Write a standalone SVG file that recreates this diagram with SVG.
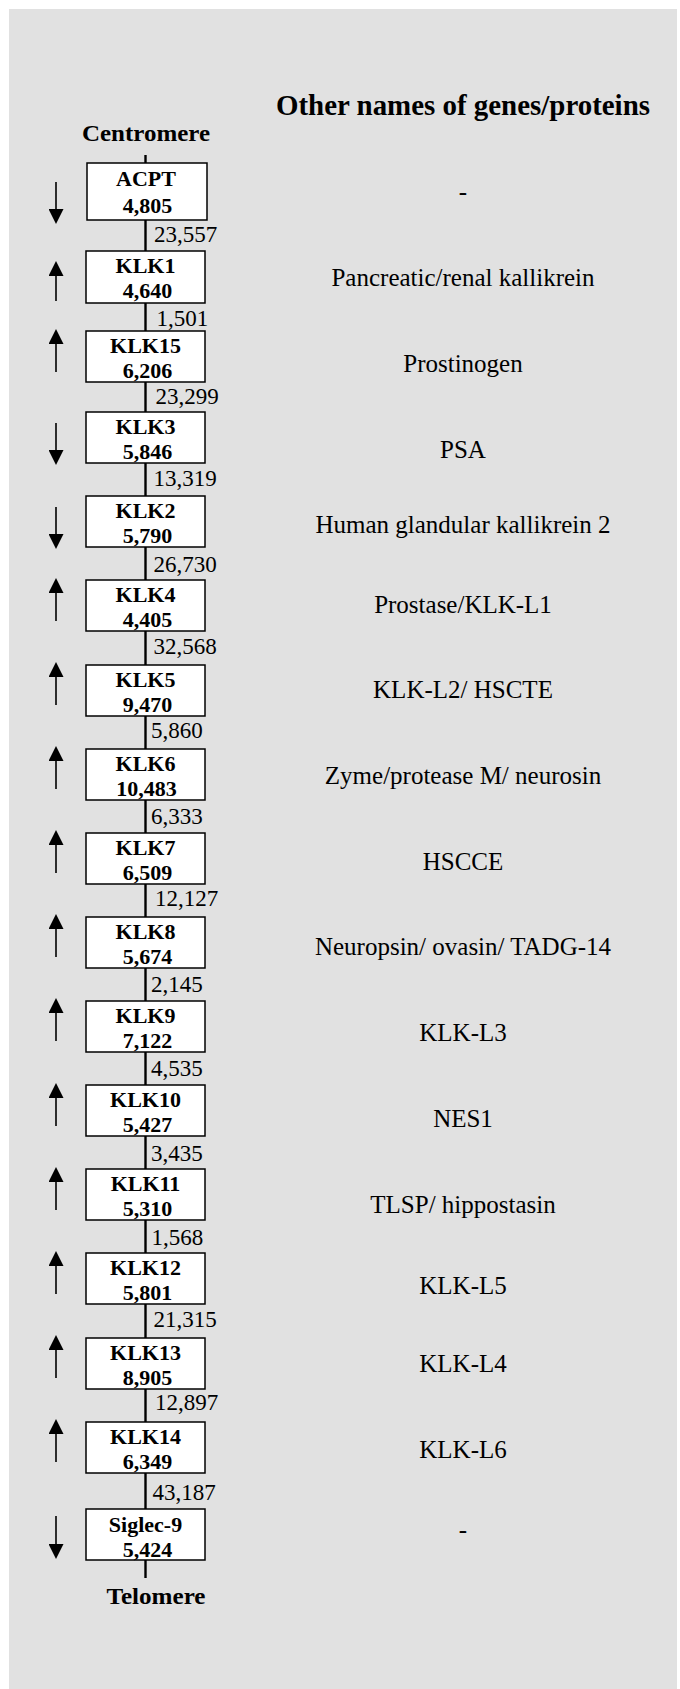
<svg xmlns="http://www.w3.org/2000/svg" width="680" height="1689" viewBox="0 0 680 1689">
<style>
.bg{fill:#e1e1e1}
.box{fill:#fff;stroke:#000;stroke-width:1.5}
.nm{font-family:"Liberation Serif","Times New Roman",serif;font-weight:bold;font-size:22px;text-anchor:middle;fill:#000}
.al{font-family:"Liberation Serif","Times New Roman",serif;font-size:25px;text-anchor:middle;fill:#000}
.ds{font-family:"Liberation Serif","Times New Roman",serif;font-size:23px;fill:#000}
.hd{font-family:"Liberation Serif","Times New Roman",serif;font-weight:bold;text-anchor:middle;fill:#000}
.con{stroke:#000;stroke-width:2.4;fill:none}
.arr{stroke:#000;stroke-width:1.6;fill:none;marker-end:url(#ah)}
</style>
<defs>
<marker id="ah" markerUnits="userSpaceOnUse" markerWidth="15" markerHeight="15" viewBox="0 0 15 15" refX="5" refY="7.5" orient="auto">
<path d="M0,0 L15,7.5 L0,15 Z" fill="#000"/>
</marker>
</defs>
<rect class="bg" x="9" y="9" width="668" height="1680"/>
<text class="hd" x="463" y="115" font-size="30" textLength="374" lengthAdjust="spacingAndGlyphs">Other names of genes/proteins</text>
<text id="centromere" class="hd" x="146" y="141" font-size="24" textLength="128" lengthAdjust="spacingAndGlyphs">Centromere</text>
<text id="telomere" class="hd" x="156" y="1604" font-size="24" textLength="99" lengthAdjust="spacingAndGlyphs">Telomere</text>
<g id="connectors">
<line class="con" x1="145.5" y1="155" x2="145.5" y2="163"/>
<line class="con" x1="145.5" y1="220" x2="145.5" y2="251"/>
<line class="con" x1="145.5" y1="303" x2="145.5" y2="331"/>
<line class="con" x1="145.5" y1="382" x2="145.5" y2="412"/>
<line class="con" x1="145.5" y1="463" x2="145.5" y2="496"/>
<line class="con" x1="145.5" y1="547" x2="145.5" y2="580"/>
<line class="con" x1="145.5" y1="631" x2="145.5" y2="665"/>
<line class="con" x1="145.5" y1="716" x2="145.5" y2="749"/>
<line class="con" x1="145.5" y1="800" x2="145.5" y2="833"/>
<line class="con" x1="145.5" y1="884" x2="145.5" y2="917"/>
<line class="con" x1="145.5" y1="968" x2="145.5" y2="1001"/>
<line class="con" x1="145.5" y1="1052" x2="145.5" y2="1085"/>
<line class="con" x1="145.5" y1="1136" x2="145.5" y2="1169"/>
<line class="con" x1="145.5" y1="1220" x2="145.5" y2="1253"/>
<line class="con" x1="145.5" y1="1304" x2="145.5" y2="1338"/>
<line class="con" x1="145.5" y1="1389" x2="145.5" y2="1422"/>
<line class="con" x1="145.5" y1="1473" x2="145.5" y2="1509"/>
<line class="con" x1="145.5" y1="1560" x2="145.5" y2="1578"/>
<text class="ds" x="154" y="242">23,557</text>
<text class="ds" x="156.5" y="326">1,501</text>
<text class="ds" x="155.5" y="404">23,299</text>
<text class="ds" x="153.5" y="486">13,319</text>
<text class="ds" x="153.5" y="572">26,730</text>
<text class="ds" x="153.5" y="654">32,568</text>
<text class="ds" x="151" y="738">5,860</text>
<text class="ds" x="151" y="824">6,333</text>
<text class="ds" x="155" y="906">12,127</text>
<text class="ds" x="151" y="992">2,145</text>
<text class="ds" x="151" y="1076">4,535</text>
<text class="ds" x="151" y="1161">3,435</text>
<text class="ds" x="151.5" y="1245">1,568</text>
<text class="ds" x="153.5" y="1327">21,315</text>
<text class="ds" x="155" y="1410">12,897</text>
<text class="ds" x="152.5" y="1500">43,187</text>
</g>
<g id="ACPT"><rect class="box" x="87" y="163" width="120" height="57"/><text class="nm" x="146" y="186">ACPT</text><text class="nm" x="147.5" y="213">4,805</text><line class="arr" x1="56" y1="182" x2="56" y2="214"/><text class="al" x="463" y="200">-</text></g>
<g id="KLK1"><rect class="box" x="86" y="251" width="119" height="52"/><text class="nm" x="145.5" y="273">KLK1</text><text class="nm" x="147.5" y="298">4,640</text><line class="arr" x1="56" y1="301" x2="56" y2="271"/><text class="al" x="463" y="286">Pancreatic/renal kallikrein</text></g>
<g id="KLK15"><rect class="box" x="86" y="331" width="119" height="51"/><text class="nm" x="145.5" y="353">KLK15</text><text class="nm" x="147.5" y="378">6,206</text><line class="arr" x1="56" y1="372" x2="56" y2="339"/><text class="al" x="463" y="372">Prostinogen</text></g>
<g id="KLK3"><rect class="box" x="86" y="412" width="119" height="51"/><text class="nm" x="145.5" y="434">KLK3</text><text class="nm" x="147.5" y="459">5,846</text><line class="arr" x1="56" y1="423" x2="56" y2="455"/><text class="al" x="463" y="458">PSA</text></g>
<g id="KLK2"><rect class="box" x="86" y="496" width="119" height="51"/><text class="nm" x="145.5" y="518">KLK2</text><text class="nm" x="147.5" y="543">5,790</text><line class="arr" x1="56" y1="507" x2="56" y2="539"/><text class="al" x="463" y="533">Human glandular kallikrein 2</text></g>
<g id="KLK4"><rect class="box" x="86" y="580" width="119" height="51"/><text class="nm" x="145.5" y="602">KLK4</text><text class="nm" x="147.5" y="627">4,405</text><line class="arr" x1="56" y1="621" x2="56" y2="588"/><text class="al" x="463" y="613">Prostase/KLK-L1</text></g>
<g id="KLK5"><rect class="box" x="86" y="665" width="119" height="51"/><text class="nm" x="145.5" y="687">KLK5</text><text class="nm" x="147.5" y="712">9,470</text><line class="arr" x1="56" y1="705" x2="56" y2="672"/><text class="al" x="463" y="698">KLK-L2/ HSCTE</text></g>
<g id="KLK6"><rect class="box" x="86" y="749" width="119" height="51"/><text class="nm" x="145.5" y="771">KLK6</text><text class="nm" x="146.5" y="796">10,483</text><line class="arr" x1="56" y1="789" x2="56" y2="756"/><text class="al" x="463" y="784">Zyme/protease M/ neurosin</text></g>
<g id="KLK7"><rect class="box" x="86" y="833" width="119" height="51"/><text class="nm" x="145.5" y="855">KLK7</text><text class="nm" x="147.5" y="880">6,509</text><line class="arr" x1="56" y1="873" x2="56" y2="840"/><text class="al" x="463" y="870">HSCCE</text></g>
<g id="KLK8"><rect class="box" x="86" y="917" width="119" height="51"/><text class="nm" x="145.5" y="939">KLK8</text><text class="nm" x="147.5" y="964">5,674</text><line class="arr" x1="56" y1="957" x2="56" y2="924"/><text class="al" x="463" y="955">Neuropsin/ ovasin/ TADG-14</text></g>
<g id="KLK9"><rect class="box" x="86" y="1001" width="119" height="51"/><text class="nm" x="145.5" y="1023">KLK9</text><text class="nm" x="147.5" y="1048">7,122</text><line class="arr" x1="56" y1="1041" x2="56" y2="1008"/><text class="al" x="463" y="1041">KLK-L3</text></g>
<g id="KLK10"><rect class="box" x="86" y="1085" width="119" height="51"/><text class="nm" x="145.5" y="1107">KLK10</text><text class="nm" x="147.5" y="1132">5,427</text><line class="arr" x1="56" y1="1126" x2="56" y2="1093"/><text class="al" x="463" y="1127">NES1</text></g>
<g id="KLK11"><rect class="box" x="86" y="1169" width="119" height="51"/><text class="nm" x="145.5" y="1191">KLK11</text><text class="nm" x="147.5" y="1216">5,310</text><line class="arr" x1="56" y1="1210" x2="56" y2="1177"/><text class="al" x="463" y="1213">TLSP/ hippostasin</text></g>
<g id="KLK12"><rect class="box" x="86" y="1253" width="119" height="51"/><text class="nm" x="145.5" y="1275">KLK12</text><text class="nm" x="147.5" y="1300">5,801</text><line class="arr" x1="56" y1="1294" x2="56" y2="1261"/><text class="al" x="463" y="1294">KLK-L5</text></g>
<g id="KLK13"><rect class="box" x="86" y="1338" width="119" height="51"/><text class="nm" x="145.5" y="1360">KLK13</text><text class="nm" x="147.5" y="1385">8,905</text><line class="arr" x1="56" y1="1378" x2="56" y2="1345"/><text class="al" x="463" y="1372">KLK-L4</text></g>
<g id="KLK14"><rect class="box" x="86" y="1422" width="119" height="51"/><text class="nm" x="145.5" y="1444">KLK14</text><text class="nm" x="147.5" y="1469">6,349</text><line class="arr" x1="56" y1="1462" x2="56" y2="1429"/><text class="al" x="463" y="1458">KLK-L6</text></g>
<g id="Siglec-9"><rect class="box" x="86" y="1509" width="119" height="51"/><text class="nm" x="145.5" y="1532">Siglec-9</text><text class="nm" x="147.5" y="1557">5,424</text><line class="arr" x1="56" y1="1516" x2="56" y2="1549"/><text class="al" x="463" y="1538">-</text></g>
</svg>
